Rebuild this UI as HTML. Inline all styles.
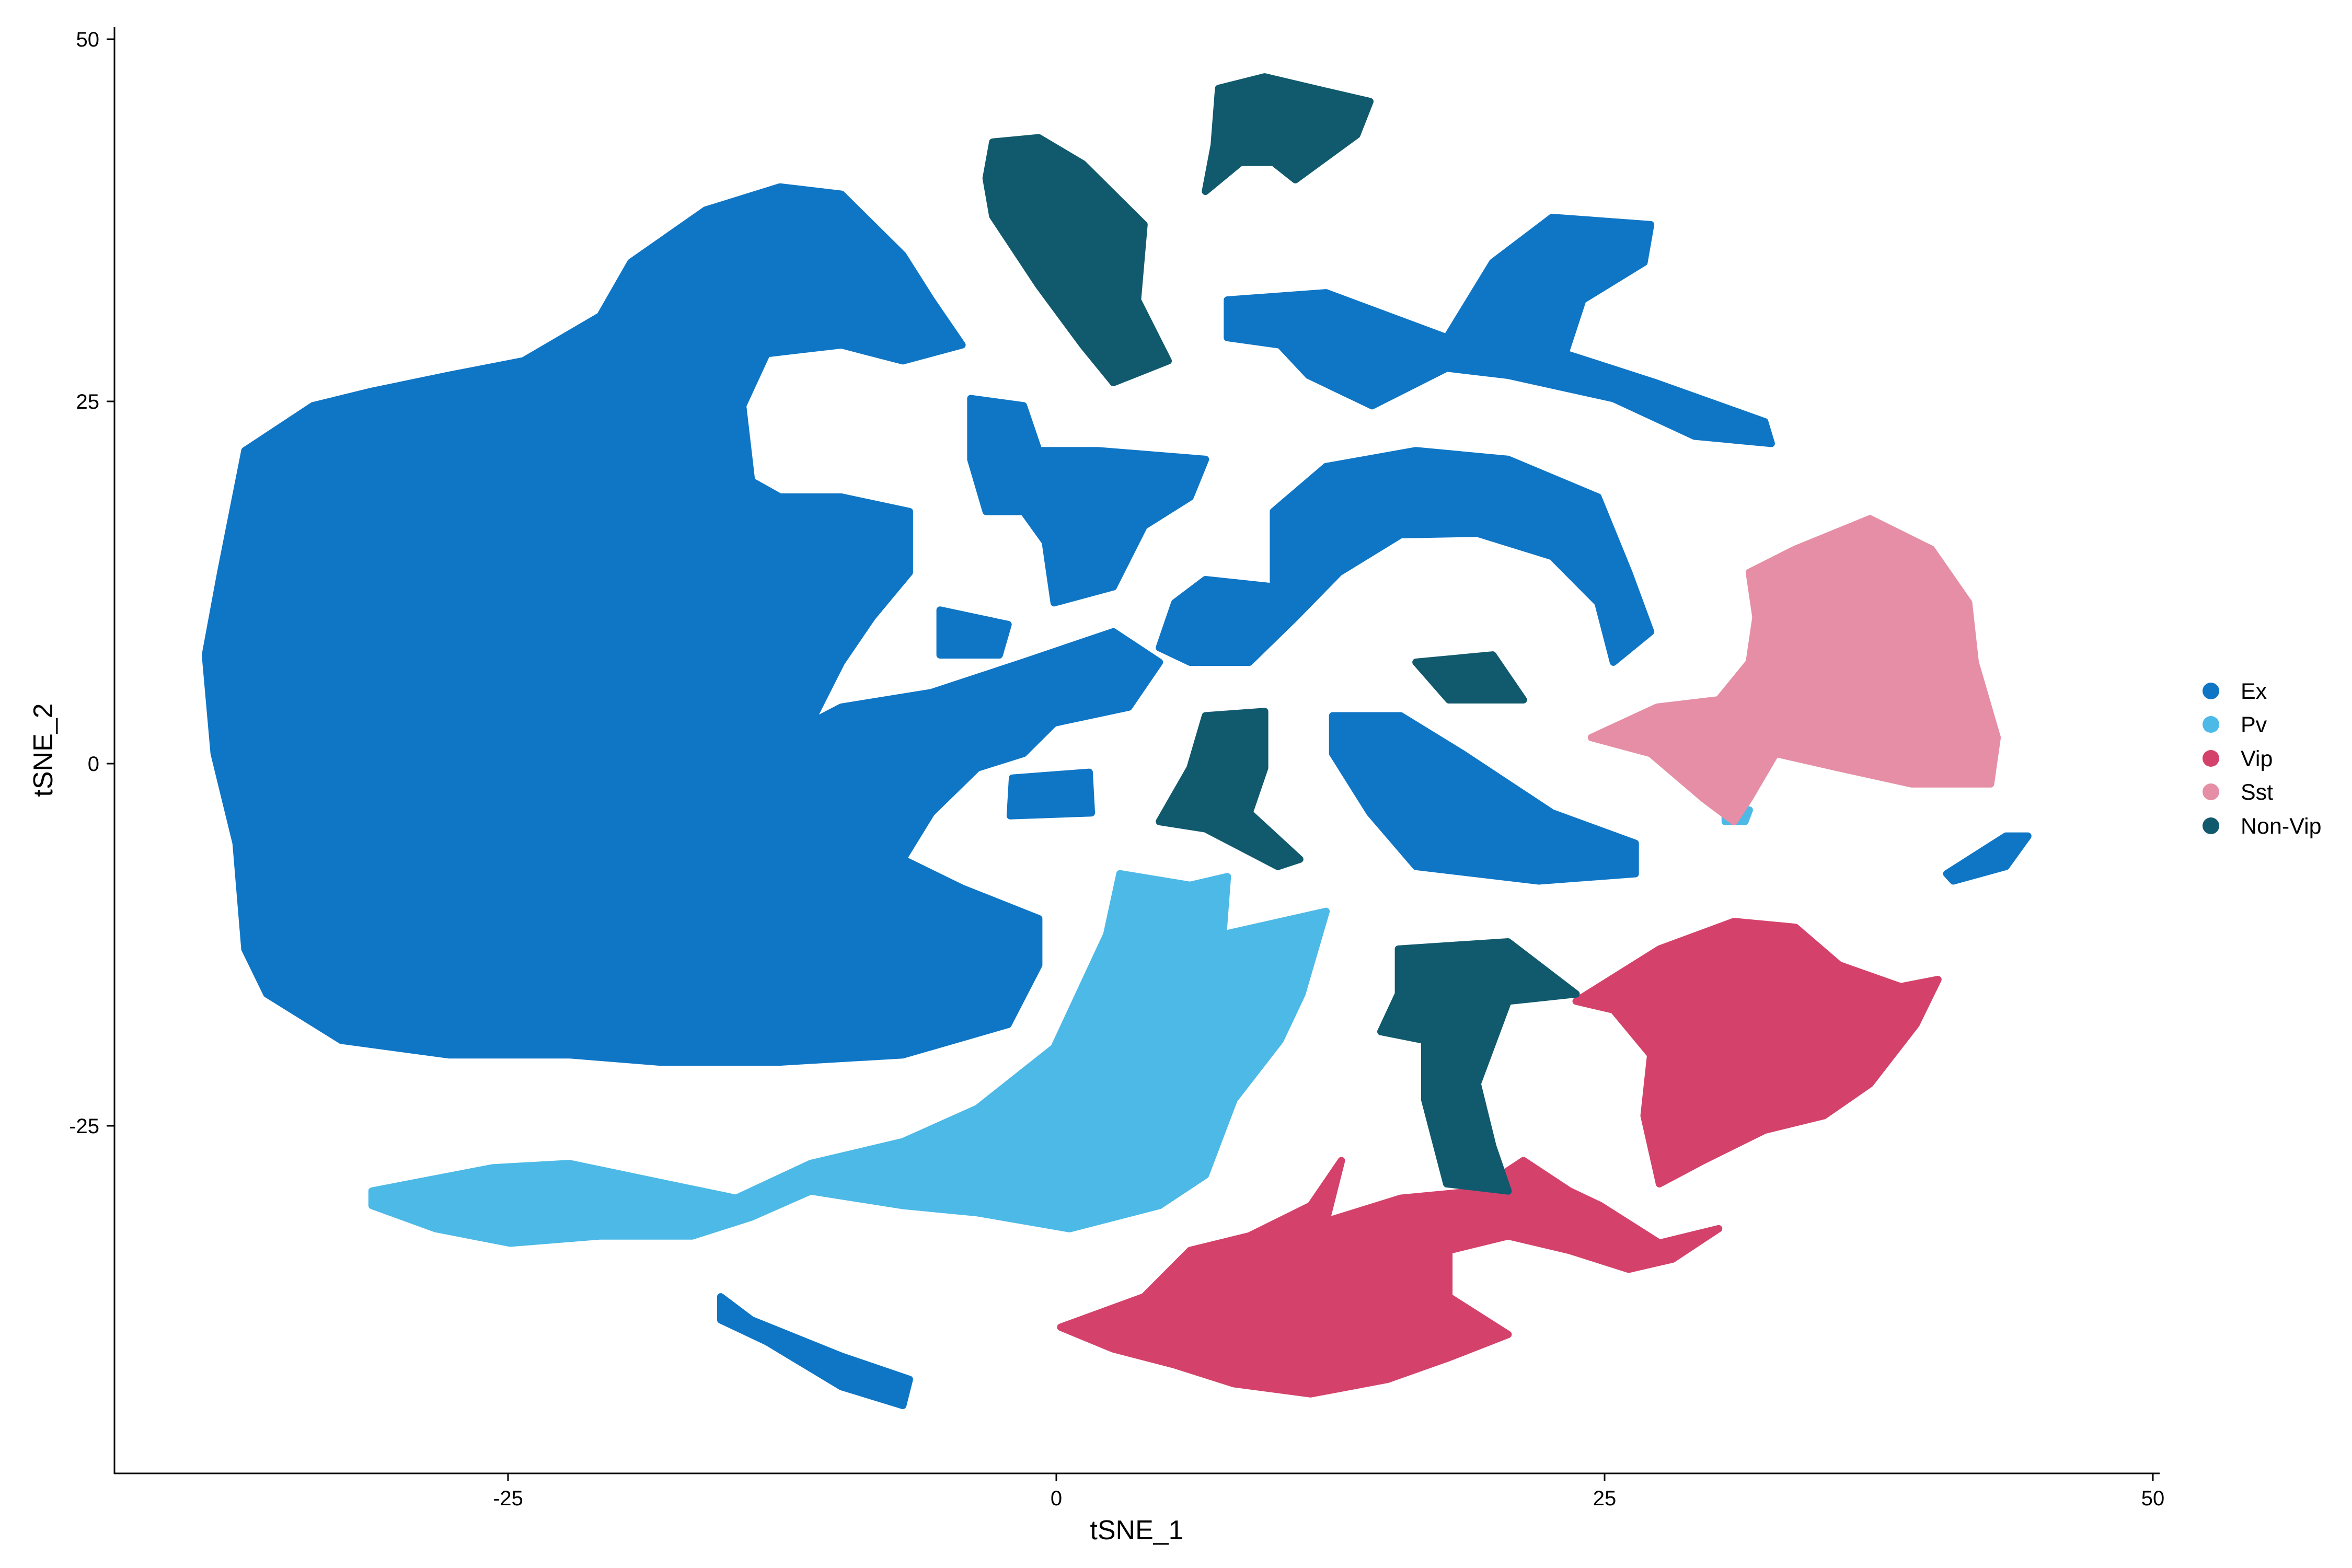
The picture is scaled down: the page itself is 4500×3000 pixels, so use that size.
<!DOCTYPE html>
<html><head><meta charset="utf-8"><title>tSNE</title>
<style>html,body{margin:0;padding:0;background:#fff}svg{display:block}</style></head>
<body>
<svg id="chart" xmlns="http://www.w3.org/2000/svg" width="4500" height="3000" viewBox="0 0 4500 3000" font-family="Liberation Sans, sans-serif"></svg>
<script>
// ---- data (t-SNE cluster outlines in data coordinates) ----
const clusterNames = ["Ex","Pv","Vip","Sst","Non-Vip"];
const clusterColors = ["#0f76c6","#4cb9e6","#d4426b","#e58ea6","#115a6e"];
const xTicks = [-25,0,25,50];
const yTicks = [-25,0,25,50];
const exMain = [[-38.8,7.5],[-38.1,13.2],[-37,21.6],[-33.9,24.7],[-31.2,25.7],[-27.7,26.8],[-24.3,27.8],[-20.8,30.9],[-19.4,34.6],[-16,38.2],[-12.6,39.8],[-9.8,39.3],[-7,35.1],[-5.7,32],[-4.3,28.9],[-7,27.8],[-9.8,28.9],[-13.2,28.3],[-14.3,24.7],[-13.9,19.5],[-12.6,18.4],[-9.8,18.4],[-6.7,17.4],[-6.7,13.2],[-8.4,10.1],[-9.8,7],[-11.2,2.8],[-9.8,3.9],[-5.7,4.9],[-1.5,7],[2.6,9.1],[4.7,7],[3.3,3.9],[-0.1,2.8],[-1.5,0.7],[-3.6,-0.3],[-5.7,-3.4],[-7,-6.6],[-4.3,-8.6],[-0.8,-10.7],[-0.8,-13.9],[-2.2,-18],[-7,-20.1],[-12.6,-20.6],[-18.1,-20.6],[-22.2,-20.1],[-27.7,-20.1],[-32.6,-19.1],[-36,-15.9],[-37,-12.8],[-37.4,-5.5],[-38.4,0.7]];
const exSmallCenter = [[-2,-1],[1.5,-0.6],[1.6,-3.4],[-2.1,-3.6]];
const exUpperMid = [[-3.9,25.2],[-1.5,24.7],[-0.8,21.6],[1.9,21.6],[6.8,21],[6.1,18.4],[4,16.4],[2.6,12.2],[-0.1,11.1],[-0.5,15.3],[-1.5,17.4],[-3.2,17.4],[-3.9,21]];
const exArc = [[5.4,11.1],[6.8,12.7],[9.9,12.2],[9.9,17.4],[12.3,20.5],[16.4,21.6],[20.6,21],[24.7,18.4],[26.1,13.2],[27.1,9.1],[25.4,7],[24.7,11.1],[22.6,14.3],[19.2,15.9],[15.7,15.8],[12.9,13.2],[10.9,10.1],[8.8,7],[6.1,7],[4.7,8]];
const exX = [[7.8,32],[12.3,32.5],[17.8,29.4],[19.9,34.6],[22.6,37.7],[27.1,37.2],[26.8,34.6],[24,32],[23.2,28.3],[27.3,26.3],[32.3,23.6],[32.6,22.1],[29.1,22.6],[25.4,25.2],[20.6,26.8],[17.8,27.3],[14.4,24.7],[11.5,26.8],[10.2,28.9],[7.8,29.4]];
const exRightMid = [[12.6,3.3],[15.7,3.3],[18.5,0.7],[22.6,-3.4],[26.4,-5.5],[26.4,-7.6],[22,-8.1],[16.4,-7.1],[14.3,-3.4],[12.6,0.7]];
const exFarRight = [[40.6,-7.6],[43.3,-5],[44.3,-5],[43.3,-7.1],[40.9,-8.1]];
const exBottom = [[-15.3,-36.8],[-13.9,-38.4],[-9.8,-40.9],[-6.7,-42.5],[-7,-44.3],[-9.8,-43],[-13.2,-39.9],[-15.3,-38.4]];
const exTiny = [[-5.3,10.6],[-2.2,9.6],[-2.6,7.5],[-5.3,7.5]];
const pvMain = [[-31.2,-29.5],[-25.7,-27.9],[-22.2,-27.6],[-18.1,-28.9],[-14.6,-30],[-11.2,-27.6],[-7,-26.1],[-3.6,-23.8],[-0.1,-19.6],[2.3,-11.8],[2.9,-7.6],[6.1,-8.4],[7.8,-7.8],[7.6,-11.8],[12.3,-10.2],[11.2,-15.9],[10.2,-19.1],[8.1,-23.2],[6.8,-28.4],[4.7,-30.5],[0.6,-32.1],[-3.6,-31],[-7,-30.5],[-11.2,-29.5],[-13.9,-31.3],[-16.6,-32.6],[-20.8,-32.6],[-24.9,-33.1],[-28.3,-32.1],[-31.2,-30.5]];
const pvSmall = [[30.5,-3.4],[31.6,-3.2],[31.4,-4],[30.5,-4]];
const vipRight = [[23.7,-16.4],[27.5,-12.8],[30.9,-10.9],[33.7,-11.3],[35.7,-13.9],[38.5,-15.4],[40.2,-14.9],[39.2,-18],[37.1,-22.1],[35,-24.3],[32.3,-25.3],[29.5,-27.4],[27.5,-29],[26.8,-24.3],[27.1,-20.1],[25.4,-17]];
const vipBottom = [[0.2,-38.9],[4,-36.8],[6.1,-33.6],[8.8,-32.6],[11.6,-30.5],[13,-27.4],[12.3,-31.6],[15.7,-30],[19.2,-29.5],[21.3,-27.4],[23.4,-29.5],[24.8,-30.5],[27.5,-33.1],[30.2,-32.1],[28.1,-34.2],[26.1,-34.9],[23.4,-33.6],[20.6,-32.6],[17.9,-33.6],[17.9,-36.8],[20.6,-39.4],[17.9,-41],[15.1,-42.5],[11.6,-43.5],[8.1,-42.8],[5.4,-41.5],[2.6,-40.4]];
const sstMain = [[31.6,13.2],[33.7,14.8],[37.1,16.9],[39.9,14.8],[41.6,11.1],[41.9,7],[42.9,1.8],[42.6,-1.4],[39,-1.4],[35.7,-0.3],[32.8,0.7],[31.6,-2.4],[30.9,-4],[29.5,-2.4],[27.1,0.7],[24.4,1.8],[27.4,3.9],[30.2,4.4],[31.6,7],[31.9,10.1]];
const nvTop = [[-2.9,42.9],[-0.8,43.2],[1.2,41.4],[4,37.2],[3.7,32],[5.1,27.8],[2.6,26.3],[1.2,28.9],[-0.8,33],[-2.9,37.8],[-3.2,40.4]];
const nvTop2 = [[7.4,46.6],[9.5,47.4],[12.3,46.4],[14.3,45.7],[13.7,43.4],[10.9,40.3],[9.9,41.5],[8.4,41.5],[6.8,39.5],[7.2,42.7]];
const nvSmall = [[16.4,7],[19.9,7.5],[21.3,4.4],[17.9,4.4]];
const nvMid = [[6.8,3.3],[9.5,3.6],[9.5,-0.3],[8.8,-3.4],[11.1,-6.6],[10.1,-7.1],[6.8,-4.5],[4.7,-4],[6.1,-0.3]];
const nvBottom = [[15.6,-12.8],[20.6,-12.3],[23.7,-15.9],[20.6,-16.4],[19.2,-22.1],[19.9,-26.4],[20.6,-29.5],[17.8,-29],[16.8,-23.2],[16.8,-19.1],[14.8,-18.5],[15.6,-15.9]];
const clusterShapes = [
  [exMain,exSmallCenter,exUpperMid,exArc,exX,exRightMid,exFarRight,exBottom,exTiny],
  [pvMain,pvSmall],
  [vipRight,vipBottom],
  [sstMain],
  [nvTop,nvTop2,nvSmall,nvMid,nvBottom]
];
// ---- axes ----
const X0=2021, XS=41.96, Y0=1461, YS=27.72;
const sx = v => X0 + XS*v;
const sy = v => Y0 - YS*v;
const svg = document.getElementById('chart');
const NS = 'http://www.w3.org/2000/svg';
function mk(tag, attrs){const e=document.createElementNS(NS,tag);for(const k in attrs)e.setAttribute(k,attrs[k]);svg.appendChild(e);return e;}

clusterShapes.forEach((shapes,ci)=>{
  shapes.forEach((poly,pi)=>{
    const d = poly.map((p,i)=>(i?'L':'M')+sx(p[0]).toFixed(1)+','+sy(p[1]).toFixed(1)).join(' ')+' Z';
    const e = mk('path',{d:d,fill:clusterColors[ci],stroke:clusterColors[ci],'stroke-width':14,'stroke-linejoin':'round'});
    
    
  });
});

// axis lines
const ax = mk('line',{x1:219,y1:52,x2:219,y2:2820,stroke:'#000','stroke-width':3});


const axx = mk('line',{x1:218,y1:2819,x2:4132,y2:2819,stroke:'#000','stroke-width':3});



xTicks.forEach(t=>{
  const tk = mk('line',{x1:sx(t),y1:2819,x2:sx(t),y2:2834,stroke:'#000','stroke-width':3});
  
  
  const lb = mk('text',{x:sx(t),y:2880,'text-anchor':'middle','font-size':40,fill:'#000'});
  lb.textContent = t;
  
  
});
yTicks.forEach(t=>{
  const tk = mk('line',{x1:204,y1:sy(t),x2:219,y2:sy(t),stroke:'#000','stroke-width':3});
  
  
  const lb = mk('text',{x:190,y:sy(t)+14,'text-anchor':'end','font-size':40,fill:'#000'});
  lb.textContent = t;
  
  
});
const xt = mk('text',{x:2175,y:2945,'text-anchor':'middle','font-size':52,fill:'#000'});
xt.textContent='tSNE_1';


const yt = mk('text',{x:0,y:0,'text-anchor':'middle','font-size':52,fill:'#000',transform:'translate(100,1435) rotate(-90)'});
yt.textContent='tSNE_2';



const legendY = [1322,1386,1451,1515,1580];
clusterNames.forEach((n,i)=>{
  const c = mk('circle',{cx:4230,cy:legendY[i],r:16,fill:clusterColors[i]});
  
  
  const t = mk('text',{x:4287,y:legendY[i]+15,'font-size':43,fill:'#000'});
  t.textContent = n;
  
  
});
</script>
</body></html>
